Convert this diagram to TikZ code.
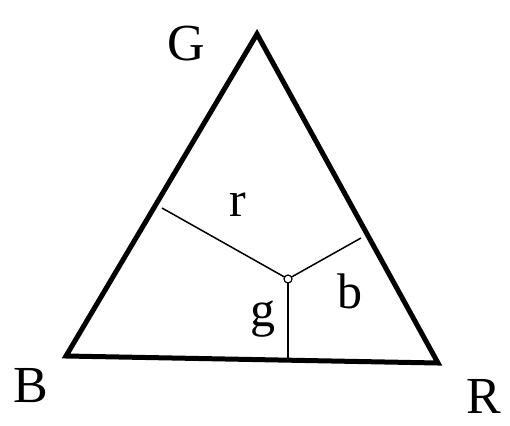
\documentclass[tikz,border=0pt]{standalone}
\usepackage{fontspec}
\setmainfont{Liberation Serif}
\usetikzlibrary{positioning}
\tikzset{
  corner/.style={font=\fontsize{52}{56}\selectfont, inner sep=0pt},
  part/.style={font=\fontsize{50}{54}\selectfont, inner sep=0pt},
  edge/.style={line width=5pt, line join=miter},
  foot/.style={line width=1.5pt}
}

\begin{document}
\begin{tikzpicture}[x=1pt,y=-1pt]%
      \useasboundingbox (0,0) rectangle (510,425);
      % corners of the colour triangle
      \coordinate (vg) at (257,34);
      \coordinate (vb) at (66,356);
      \coordinate (vr) at (438,363);
      \draw[edge] (vg) -- (vb) -- (vr) -- cycle;
      % inner point and its feet on the sides
      \coordinate (p) at (288,279);
      \coordinate (fr) at (162,208);
      \coordinate (fb) at (361,238);
      \coordinate (fg) at (288,359);
      \draw[foot] (p) -- (fr);
      \draw[foot] (p) -- (fb);
      \draw[foot] (p) -- (fg);
      \node[circle, draw, fill=white, line width=1.2pt, minimum size=8pt, inner sep=0pt] (dot) at (p) {};
      % labels
      \node[corner] (lg) at (186,44) {G};
      \node[corner] (lb) at (31,386) {B};
      \node[corner] (lr) at (484,396) {R};
      \node[part] (lrr) at (238,205) {r};
      \node[part] (lbb) at (350,291) {b};
      \node[part] (lgg) at (263,319) {g};
    \end{tikzpicture}
\end{document}
